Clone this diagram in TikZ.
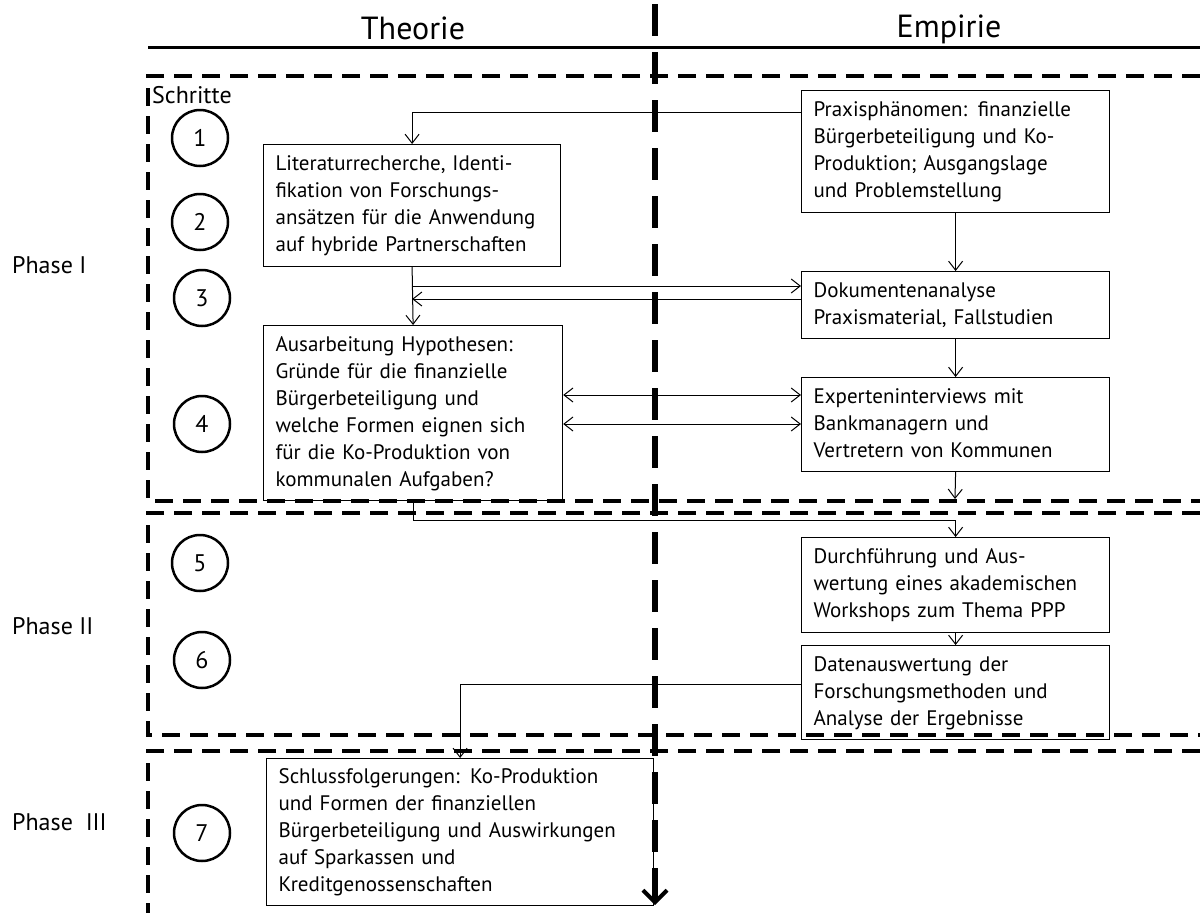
\documentclass[tikz,border=0pt]{standalone}
\usepackage{fontspec}
\setmainfont{PT Sans}
\usetikzlibrary{arrows.meta}
\newcommand{\tbl}[1]{\begin{tabular}{@{}l@{}}#1\end{tabular}}
\begin{document}
\begin{tikzpicture}[x=1pt,y=-1pt,
  box/.style={draw, line width=1.2pt, anchor=north west, inner xsep=12pt, inner ysep=0pt, align=left, font=\fontsize{21}{27}\selectfont},
  arr/.style={line width=1pt, -{Straight Barb[length=9pt,width=14pt]}},
  darr/.style={line width=1pt, {Straight Barb[length=9pt,width=14pt]}-{Straight Barb[length=9pt,width=14pt]}},
  phase/.style={line width=4pt, dash pattern=on 18pt off 10pt},
  circ/.style={circle, draw, line width=2.5pt, minimum size=56pt, inner sep=0pt, font=\fontsize{24}{28}\selectfont},
  lab/.style={anchor=west, inner sep=0pt, font=\fontsize{24}{28}\selectfont},
  head/.style={inner sep=0pt, font=\fontsize{32}{36}\selectfont},
]
\useasboundingbox (0,0) rectangle (1200,913);

% headers
\node[head] (th) at (413,28) {Theorie};
\node[head] (em) at (949,29) {Empirie};
\coordinate (hl) at (148,47);
\coordinate (hr) at (1200,47);
\draw[line width=3pt] (hl) -- (hr);

% phase frames
\draw[phase] (1200,76) -- (148,76) -- (148,501) -- (1200,501);
\draw[phase] (1200,513) -- (148,513) -- (148,735) -- (1200,735);
\draw[phase] (1200,751) -- (148,751) -- (148,913);

% labels
\node[lab] (schr) at (152,95) {Schritte};
\node[lab] (ph1) at (12,265) {Phase I};
\node[lab] (ph2) at (12,626) {Phase II};
\node[lab] (ph3) at (12,822) {Phase\ \ III};

% step circles
\node[circ] (s1) at (200,138) {1};
\node[circ] (s2) at (200,222) {2};
\node[circ] (s3) at (202,298) {3};
\node[circ] (s4) at (202,424) {4};
\node[circ] (s5) at (200,563) {5};
\node[circ] (s6) at (202,660) {6};
\node[circ] (s7) at (202,833) {7};

% boxes
\node[box, minimum width=297pt, minimum height=122pt, text width=273pt] (lit) at (263,144)
  {\tbl{Literaturrecherche, Identi-\\fikation von Forschungs-\\ansätzen für die Anwendung\\auf hybride Partnerschaften}};
\node[box, minimum width=299pt, minimum height=175pt, text width=275pt] (ausa) at (263,325)
  {\tbl{Ausarbeitung Hypothesen:\\Gründe für die finanzielle\\Bürgerbeteiligung und\\welche Formen eignen sich\\für die Ko-Produktion von\\kommunalen Aufgaben?}};
\node[box, minimum width=308pt, minimum height=122pt, text width=284pt] (prax) at (801,90)
  {\tbl{Praxisphänomen: finanzielle\\Bürgerbeteiligung und Ko-\\Produktion; Ausgangslage\\und Problemstellung}};
\node[box, minimum width=308pt, minimum height=67pt, text width=284pt] (doku) at (801,271)
  {\tbl{Dokumentenanalyse\\Praxismaterial, Fallstudien}};
\node[box, minimum width=308pt, minimum height=94pt, text width=284pt] (exp) at (801,377)
  {\tbl{Experteninterviews mit\\Bankmanagern und\\Vertretern von Kommunen}};
\node[box, minimum width=308pt, minimum height=95pt, text width=284pt] (durch) at (801,537)
  {\tbl{Durchführung und Aus-\\wertung eines akademischen\\Workshops zum Thema PPP}};
\node[box, minimum width=308pt, minimum height=94pt, text width=284pt] (daten) at (801,645)
  {\tbl{Datenauswertung der\\Forschungsmethoden und\\Analyse der Ergebnisse}};
\node[box, minimum width=387pt, minimum height=147pt, text width=363pt] (schl) at (266,758)
  {\tbl{Schlussfolgerungen: Ko-Produktion\\und Formen der finanziellen\\Bürgerbeteiligung und Auswirkungen\\auf Sparkassen und\\Kreditgenossenschaften}};

% connectors
\draw[arr] ([yshift=-22pt]prax.north west) -| (lit.north);
\draw[arr] (prax.south) -- (doku.north);
\draw[arr] (lit.south) -- (ausa.north);
\coordinate (d1) at ([yshift=-15pt]doku.north west);
\coordinate (d2) at ([yshift=-28pt]doku.north west);
\draw[arr] (lit.south |- d1) -- (d1);
\draw[arr] (d2) -- (lit.south |- d2);
\draw[arr] (doku.south) -- (exp.north);
\coordinate (e1) at ([yshift=-18pt]exp.north west);
\coordinate (e2) at ([yshift=-47pt]exp.north west);
\draw[darr] (ausa.east |- e1) -- (e1);
\draw[darr] (ausa.east |- e2) -- (e2);
\coordinate (eb) at (955,499);
\draw[arr] (exp.south) -- (eb);
\draw[arr] (ausa.south) -- ++(0,19) -| (durch.north);
\draw[arr] (durch.south) -- (daten.north);
\draw[arr] ([yshift=8pt]daten.west) -| (schl.north);

% central divider
\coordinate (ctop) at (655,4);
\coordinate (cbot) at (655,905);
\draw[line width=6pt, dash pattern=on 32pt off 16pt, -{Straight Barb[length=12pt,width=24pt,line width=4pt]}] (ctop) -- (cbot);
\end{tikzpicture}
\end{document}
